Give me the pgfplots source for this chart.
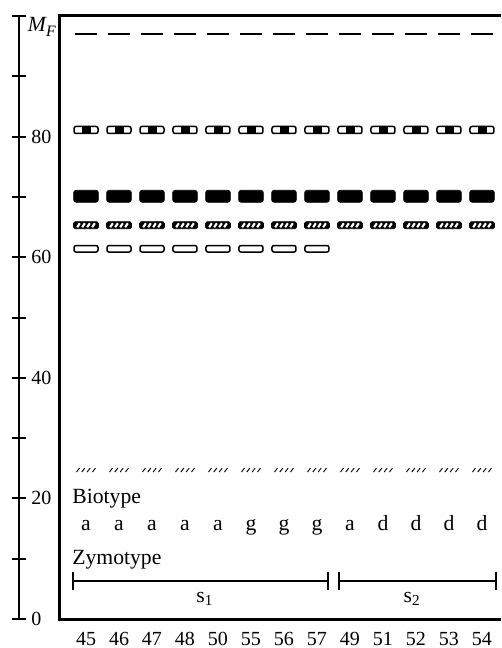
\documentclass[border=0pt]{standalone}
\usepackage{pgfplots}
\pgfplotsset{compat=1.18}
\usepackage{fontspec}
\setmainfont{Liberation Serif}
\usetikzlibrary{arrows.meta}

\pgfdeclareplotmark{dashmark}{\draw[black,line width=0.8pt] (-6.6pt,0pt) -- (6.6pt,0pt);}
\pgfdeclareplotmark{dotband}{%
  \draw[black,line width=0.9pt,fill=white,rounded corners=1.2pt] (-7.2pt,-2.1pt) rectangle (7.2pt,2.1pt);
  \fill[black] (-2.4pt,-2.1pt) rectangle (2.7pt,2.1pt);}
\pgfdeclareplotmark{blackband}{%
  \fill[black,rounded corners=1.5pt] (-7.4pt,-3.6pt) rectangle (7.4pt,3.6pt);}
\pgfdeclareplotmark{hatchband}{%
  \fill[black,rounded corners=1pt] (-7.5pt,-2.1pt) rectangle (7.5pt,2.1pt);
  \draw[white,line width=1.3pt] (-5.3pt,-1.2pt) -- (-3.7pt,1.2pt)
     (-2.3pt,-1.2pt) -- (-0.7pt,1.2pt) (0.7pt,-1.2pt) -- (2.3pt,1.2pt)
     (3.7pt,-1.2pt) -- (5.3pt,1.2pt);}
\pgfdeclareplotmark{openband}{%
  \draw[black,line width=0.9pt,fill=white,rounded corners=1.2pt] (-7.2pt,-1.95pt) rectangle (7.2pt,1.95pt);}
\pgfdeclareplotmark{faintband}{%
  \draw[black,line width=0.55pt] (-5.7pt,-1.2pt) -- (-3.9pt,1.2pt)
     (-2.5pt,-1.2pt) -- (-0.7pt,1.2pt) (0.7pt,-1.2pt) -- (2.5pt,1.2pt)
     (3.9pt,-1.2pt) -- (5.7pt,1.2pt);}

\begin{document}
\begin{tikzpicture}
\path[use as bounding box] (-36pt,-17.4pt) rectangle (264.6pt,371.4pt);
% separate M_F scale
\begin{axis}[at={(-24.6pt,0pt)}, anchor=south east, scale only axis,
  width=10pt, height=361.8pt, xmin=0, xmax=1, ymin=0, ymax=100,
  hide x axis, axis y line=right, axis line style={line width=1.6pt,-},
  ytick={0,10,...,100}, yticklabels={0,,20,,40,,60,,80,,},
  tick align=center, major tick length=8.4pt,
  tick style={line width=1.2pt,black},
  /pgf/number format/assume math mode=true,
  yticklabel style={font=\fontsize{12}{14}\selectfont, anchor=west, inner sep=0pt, xshift=3pt},
  clip=false]
\node[anchor=north west, inner sep=0pt] at (rel axis cs:1,1) [xshift=5.2pt,yshift=-0.6pt]
  {\fontsize{13}{15}\selectfont\itshape M\raisebox{-0.55ex}{\fontsize{9.5}{11}\selectfont F}};
\end{axis}
% gel box
\begin{axis}[at={(0pt,0pt)}, anchor=south west, scale only axis,
  width=264.6pt, height=361.8pt, xmin=-0.788, xmax=12.576, ymin=0, ymax=100,
  axis line style={draw=none}, ytick=\empty,
  xtick={0,...,12}, xticklabels={45,46,47,48,50,55,56,57,49,51,52,53,54},
  major tick length=0pt,
  xticklabel style={font=\fontsize{12}{14}\selectfont, anchor=base, yshift=-15.8pt},
  clip=false]
\draw[line width=1.8pt] (rel axis cs:1,1) -- (rel axis cs:0,1) -- (rel axis cs:0,0) -- (rel axis cs:1,0);
\addplot[black, only marks, mark=dashmark] coordinates {(0,97)(1,97)(2,97)(3,97)(4,97)(5,97)(6,97)(7,97)(8,97)(9,97)(10,97)(11,97)(12,97)};
\addplot[black, only marks, mark=dotband] coordinates {(0,81.1)(1,81.1)(2,81.1)(3,81.1)(4,81.1)(5,81.1)(6,81.1)(7,81.1)(8,81.1)(9,81.1)(10,81.1)(11,81.1)(12,81.1)};
\addplot[black, only marks, mark=blackband] coordinates {(0,70.1)(1,70.1)(2,70.1)(3,70.1)(4,70.1)(5,70.1)(6,70.1)(7,70.1)(8,70.1)(9,70.1)(10,70.1)(11,70.1)(12,70.1)};
\addplot[black, only marks, mark=hatchband] coordinates {(0,65.3)(1,65.3)(2,65.3)(3,65.3)(4,65.3)(5,65.3)(6,65.3)(7,65.3)(8,65.3)(9,65.3)(10,65.3)(11,65.3)(12,65.3)};
\addplot[black, only marks, mark=openband] coordinates {(0,61.4)(1,61.4)(2,61.4)(3,61.4)(4,61.4)(5,61.4)(6,61.4)(7,61.4)};
\addplot[black, only marks, mark=faintband] coordinates {(0,24.7)(1,24.7)(2,24.7)(3,24.7)(4,24.7)(5,24.7)(6,24.7)(7,24.7)(8,24.7)(9,24.7)(10,24.7)(11,24.7)(12,24.7)};
% biotype letters
\addplot[black, only marks, mark=none, point meta=explicit symbolic, nodes near coords,
  nodes near coords style={anchor=base, inner sep=0pt, font=\fontsize{13}{15}\selectfont}]
  table[meta=b] {
x y b
0 14.6 a
1 14.6 a
2 14.6 a
3 14.6 a
4 14.6 a
5 14.6 g
6 14.6 g
7 14.6 g
8 14.6 a
9 14.6 d
10 14.6 d
11 14.6 d
12 14.6 d
};
\node[anchor=base west, inner sep=0pt, font=\fontsize{13}{15}\selectfont] at (axis cs:-0.424,19.2) {Biotype};
\node[anchor=base west, inner sep=0pt, font=\fontsize{13}{15}\selectfont] at (axis cs:-0.424,8.96) {Zymotype};
% zymotype brackets
\addplot[black, line width=1.2pt, {Bar[width=10.8pt]}-{Bar[width=10.8pt]}] coordinates {(-0.424,6.3) (7.36,6.3)};
\addplot[black, line width=1.2pt, {Bar[width=10.8pt]}-{Bar[width=10.8pt]}] coordinates {(7.64,6.3) (12.45,6.3)};
\node[anchor=base, inner sep=0pt, font=\fontsize{13}{15}\selectfont] at (axis cs:3.6,2.8) {s\textsubscript{1}};
\node[anchor=base, inner sep=0pt, font=\fontsize{13}{15}\selectfont] at (axis cs:9.88,2.8) {s\textsubscript{2}};
\end{axis}
\end{tikzpicture}
\end{document}
